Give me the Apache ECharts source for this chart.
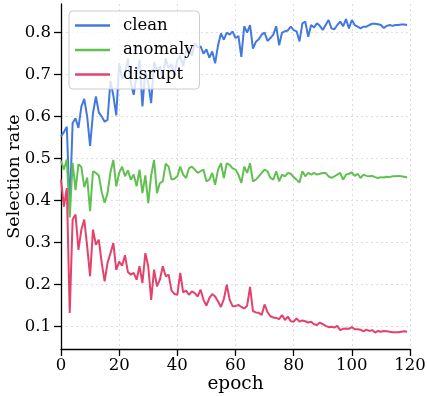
<!DOCTYPE html>
<html>
<head>
<meta charset="utf-8">
<script src="https://cdn.jsdelivr.net/npm/echarts@6/dist/echarts.min.js"></script>
<style>
html,body{margin:0;padding:0;background:#fff;}
#chart{width:427px;height:396px;}
</style>
</head>
<body>
<div id="chart"></div>
<script>
const seriesNames = ['clean', 'anomaly', 'disrupt'];
const xTicks = [0, 20, 40, 60, 80, 100, 120];
const yTicks = [0.1, 0.2, 0.3, 0.4, 0.5, 0.6, 0.7, 0.8];

const clean = [
0.553,0.563,0.576,0.380,0.585,0.596,0.573,0.624,0.642,0.600,
0.530,0.608,0.648,0.610,0.600,0.588,0.592,0.685,0.650,0.603,
0.727,0.690,0.700,0.738,0.680,0.652,0.700,0.735,0.624,0.710,
0.680,0.632,0.730,0.707,0.720,0.690,0.739,0.715,0.725,0.700,
0.735,0.745,0.720,0.755,0.765,0.745,0.775,0.765,0.767,0.750,
0.760,0.740,0.755,0.727,0.770,0.798,0.783,0.800,0.795,0.803,
0.787,0.792,0.742,0.815,0.800,0.818,0.762,0.778,0.784,0.795,
0.800,0.780,0.787,0.795,0.815,0.770,0.800,0.803,0.805,0.814,
0.806,0.803,0.779,0.822,0.826,0.790,0.818,0.812,0.822,0.816,
0.806,0.818,0.830,0.810,0.808,0.818,0.826,0.815,0.832,0.810,
0.830,0.818,0.814,0.810,0.814,0.814,0.818,0.821,0.821,0.820,
0.818,0.811,0.816,0.818,0.816,0.818,0.818,0.819,0.819,0.818
];
const anomaly = [
0.495,0.474,0.498,0.360,0.490,0.425,0.487,0.480,0.432,0.455,
0.375,0.470,0.466,0.460,0.420,0.395,0.418,0.467,0.497,0.434,
0.466,0.481,0.458,0.472,0.450,0.462,0.434,0.474,0.418,0.460,
0.394,0.460,0.497,0.418,0.442,0.446,0.488,0.481,0.450,0.452,
0.458,0.481,0.462,0.454,0.477,0.481,0.474,0.466,0.470,0.474,
0.446,0.450,0.466,0.438,0.474,0.489,0.454,0.489,0.485,0.477,
0.474,0.462,0.442,0.481,0.466,0.489,0.446,0.450,0.458,0.466,
0.474,0.470,0.454,0.450,0.470,0.446,0.462,0.458,0.466,0.464,
0.456,0.450,0.443,0.470,0.458,0.466,0.462,0.466,0.462,0.464,
0.466,0.466,0.458,0.454,0.458,0.462,0.466,0.450,0.462,0.464,
0.467,0.459,0.464,0.454,0.462,0.459,0.458,0.459,0.456,0.454,
0.456,0.455,0.457,0.456,0.458,0.458,0.459,0.458,0.457,0.455
];
const disrupt = [
0.450,0.386,0.430,0.133,0.355,0.367,0.283,0.331,0.355,0.291,
0.220,0.331,0.295,0.307,0.252,0.208,0.252,0.275,0.299,0.235,
0.255,0.245,0.270,0.230,0.224,0.228,0.212,0.244,0.204,0.275,
0.244,0.164,0.236,0.196,0.212,0.244,0.220,0.224,0.186,0.178,
0.176,0.228,0.182,0.186,0.176,0.184,0.180,0.172,0.188,0.164,
0.150,0.168,0.178,0.172,0.160,0.147,0.166,0.200,0.164,0.149,
0.149,0.152,0.147,0.143,0.150,0.195,0.137,0.134,0.133,0.128,
0.153,0.135,0.125,0.122,0.121,0.118,0.128,0.116,0.124,0.113,
0.112,0.120,0.112,0.115,0.113,0.110,0.112,0.106,0.104,0.110,
0.106,0.102,0.099,0.100,0.098,0.102,0.092,0.095,0.096,0.095,
0.099,0.094,0.094,0.093,0.089,0.093,0.090,0.092,0.086,0.090,
0.088,0.090,0.089,0.088,0.087,0.087,0.087,0.088,0.089,0.088
];

const colors = ['#4179e0', '#62c052', '#e5416d'];
const font = 'DejaVu Serif';
const pairs = arr => arr.map((v, i) => [i, v]);

const chart = echarts.init(document.getElementById('chart'), null, {renderer: 'canvas'});
chart.setOption({
  animation: false,
  backgroundColor: '#fff',
  grid: {left: 61, right: 17, top: 4, bottom: 47, containLabel: false, outerBoundsMode: 'none'},
  legend: {
    orient: 'vertical', left: 69, top: 11,
    icon: 'rect', itemWidth: 35, itemHeight: 2.5, itemGap: 7.5,
    padding: [6, 6, 6, 6],
    backgroundColor: 'rgba(255,255,255,0.8)', borderColor: '#cccccc', borderWidth: 1, borderRadius: 4,
    textStyle: {fontFamily: font, fontSize: 16.5, color: '#000', lineHeight: 15, padding: [0, 0, 0, 8]},
    data: seriesNames
  },
  xAxis: {
    type: 'value', min: xTicks[0], max: xTicks[xTicks.length - 1], interval: 20,
    name: 'epoch', nameLocation: 'middle', nameGap: 26, nameMoveOverlap: false,
    nameTextStyle: {fontFamily: font, fontSize: 18.5, color: '#000', lineHeight: 19},
    axisLine: {show: true, lineStyle: {color: '#000', width: 1.3}},
    axisTick: {show: true, length: 7, lineStyle: {color: '#000', width: 1.3}},
    axisLabel: {fontFamily: font, fontSize: 16.5, color: '#000', margin: 8, lineHeight: 16.5},
    splitLine: {show: true, lineStyle: {color: '#dddddd', width: 1, type: [2, 3]}}
  },
  yAxis: {
    type: 'value', min: 0.047, max: 0.868,
    name: 'Selection rate', nameLocation: 'middle', nameGap: 37, nameMoveOverlap: false,
    nameTextStyle: {fontFamily: font, fontSize: 17.5, color: '#000', lineHeight: 19},
    axisLine: {show: true, lineStyle: {color: '#000', width: 1.3}},
    axisTick: {show: true, length: 7, customValues: yTicks, lineStyle: {color: '#000', width: 1.3}},
    axisLabel: {fontFamily: font, fontSize: 16.5, color: '#000', margin: 10, customValues: yTicks,
      formatter: v => v.toFixed(1)},
    splitLine: {show: true, lineStyle: {color: '#dddddd', width: 1, type: [2, 3]}}
  },
  series: [
    {name: seriesNames[0], type: 'line', data: pairs(clean), showSymbol: false, lineStyle: {width: 2, color: colors[0]}, itemStyle: {color: colors[0]}},
    {name: seriesNames[1], type: 'line', data: pairs(anomaly), showSymbol: false, lineStyle: {width: 2, color: colors[1]}, itemStyle: {color: colors[1]}},
    {name: seriesNames[2], type: 'line', data: pairs(disrupt), showSymbol: false, lineStyle: {width: 2, color: colors[2]}, itemStyle: {color: colors[2]}}
  ]
});
</script>
</body>
</html>
